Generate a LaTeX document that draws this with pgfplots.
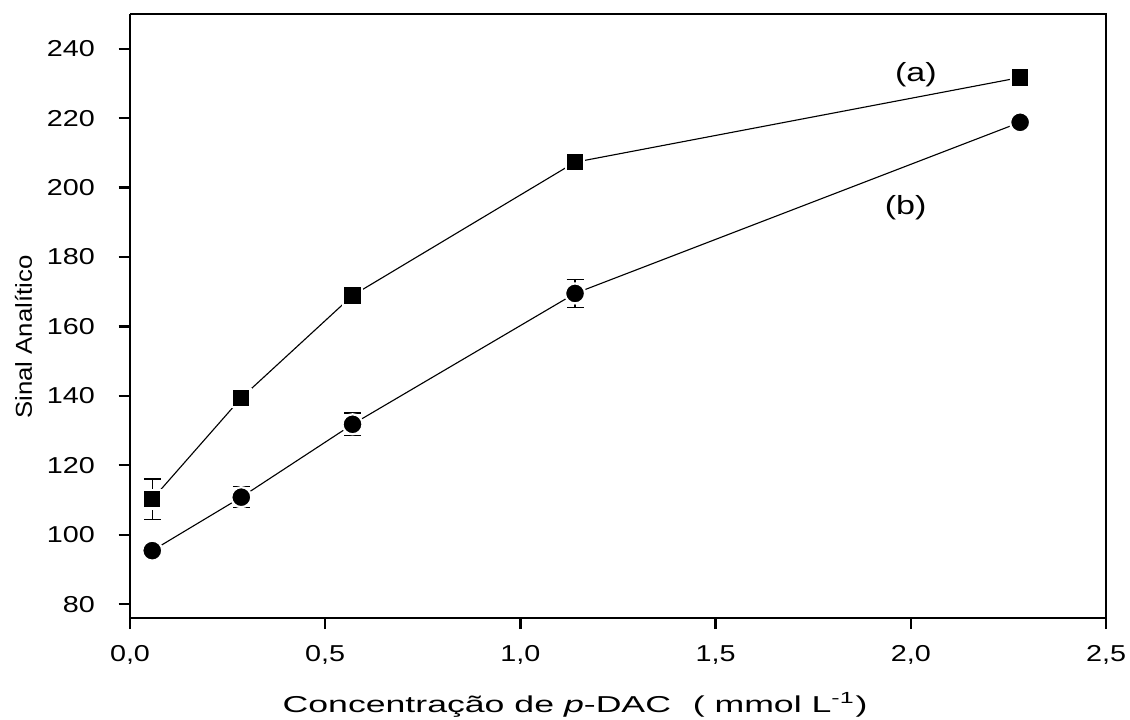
\documentclass[border=0pt]{standalone}
\usepackage{fontspec}
\setmainfont{Liberation Sans}
\usepackage{pgfplots}
\pgfplotsset{compat=1.18}

\begin{document}
\begin{tikzpicture}
% page = 1130 x 720 px at 0.4pt per px, axis box lower-left at (0,0)
\path[use as bounding box] (-52pt,-40.8pt) rectangle (400pt,247.2pt);
\begin{axis}[
    scale only axis,
    width=390.4pt,
    height=241.6pt,
    xmin=0, xmax=2.5,
    ymin=76, ymax=250,
    xtick={0,0.5,...,2.5},
    ytick={80,100,...,240},
    axis x line*=bottom,
    axis y line*=left,
    axis line style={line width=1.1pt, -},
    tick align=outside,
    major tick length=4.5pt,
    tick style={line width=0.9pt, black},
    font=\fontsize{9.2}{11}\selectfont,
    /pgf/number format/assume math mode=true,
    xticklabel style={yshift=-3pt, /pgf/number format/.cd, use comma, fixed, fixed zerofill, precision=1},
    yticklabel style={xshift=-6pt, /pgf/number format/.cd, fixed, precision=0},
    xticklabel={\scalebox{1.25}[1]{\pgfmathprintnumber{\tick}}},
    yticklabel={\scalebox{1.25}[1]{\pgfmathprintnumber{\tick}}},
    xlabel={\scalebox{1.55}[1]{Concentração de \textit{p}-DAC\,\, ( mmol L\textsuperscript{-1})}},
    ylabel={\scalebox{1.12}[1]{Sinal Analítico}},
    xlabel style={at={(axis description cs:0.456,-0.144)}, anchor=center},
    ylabel style={at={(axis description cs:-0.109,0.465)}, anchor=center},
    clip=false,
]
% top and right frame
\draw[line width=1.1pt] (rel axis cs:0,1) -- (rel axis cs:1,1) -- (rel axis cs:1,0);

% (a)
\addplot[black, line width=0.45pt, mark=square*,
    mark size=3.7pt,
    mark options={fill=black, draw=white, line width=0.9pt},
    error bars/.cd, y dir=both, y explicit,
    error bar style={line width=0.55pt, black},
    error mark options={rotate=90, mark size=3.4pt, line width=0.55pt, black}]
    table[x=x, y=y, y error=e] {
x     y      e
0.057 110.2  5.8
0.285 139.4  0.8
0.57  168.9  0.6
1.14  207.3  2.4
2.28  231.7  0.5
};

% (b)
\addplot[black, line width=0.45pt, mark=*,
    mark size=4.0pt,
    mark options={fill=black, draw=white, line width=0.9pt},
    error bars/.cd, y dir=both, y explicit,
    error bar style={line width=0.55pt, black},
    error mark options={rotate=90, mark size=3.4pt, line width=0.55pt, black}]
    table[x=x, y=y, y error=e] {
x     y      e
0.057 95.4   0.5
0.285 110.8  3.0
0.57  131.8  3.2
1.14  169.5  4.1
2.28  218.8  0.6
};

\node[font=\fontsize{10.5}{12}\selectfont] at (axis cs:2.013,232.6) {\scalebox{1.3}[1]{(a)}};
\node[font=\fontsize{10.5}{12}\selectfont] at (axis cs:1.987,194.1) {\scalebox{1.3}[1]{(b)}};
\end{axis}
\end{tikzpicture}
\end{document}
